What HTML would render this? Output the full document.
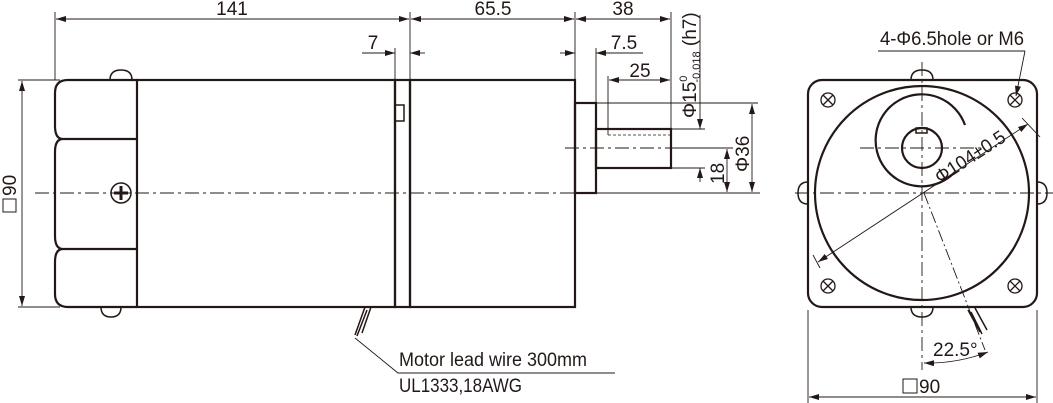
<!DOCTYPE html>
<html><head><meta charset="utf-8"><style>
html,body{margin:0;padding:0;background:#fff;}
svg{display:block;}
text{font-family:"Liberation Sans",sans-serif;fill:#231815;}
</style></head><body>
<svg width="1053" height="403" viewBox="0 0 1053 403" xmlns="http://www.w3.org/2000/svg">
<defs>
<marker id="a" viewBox="0 0 10 6" refX="10" refY="3" markerWidth="11" markerHeight="6" orient="auto-start-reverse" markerUnits="userSpaceOnUse"><path d="M0,0L10,3L0,6z" fill="#231815"/></marker>
</defs>
<g stroke="#231815" fill="none">
<g stroke-width="0.9">
<line x1="55" y1="12" x2="55" y2="80"/>
<line x1="410" y1="12" x2="410" y2="80"/>
<line x1="575" y1="12" x2="575" y2="103"/>
<line x1="671" y1="12" x2="671" y2="129"/>
<line x1="395" y1="48" x2="395" y2="80"/>
<line x1="596" y1="48" x2="596" y2="129"/>
<line x1="608" y1="76" x2="608" y2="135"/>
<line x1="56" y1="19" x2="409" y2="19" marker-start="url(#a)" marker-end="url(#a)"/>
<line x1="411" y1="19" x2="574" y2="19" marker-start="url(#a)" marker-end="url(#a)"/>
<line x1="576" y1="19" x2="670" y2="19" marker-start="url(#a)" marker-end="url(#a)"/>
<line x1="362" y1="53" x2="395" y2="53" marker-end="url(#a)"/>
<line x1="425" y1="53" x2="410" y2="53" marker-end="url(#a)"/>
<line x1="560" y1="53" x2="575" y2="53" marker-end="url(#a)"/>
<line x1="643" y1="53" x2="596" y2="53" marker-end="url(#a)"/>
<line x1="609" y1="80" x2="670" y2="80" marker-start="url(#a)" marker-end="url(#a)"/>
<line x1="700" y1="15" x2="700" y2="129" marker-end="url(#a)"/>
<line x1="700" y1="182" x2="700" y2="168" marker-end="url(#a)"/>
<line x1="672" y1="129" x2="705" y2="129"/>
<line x1="672" y1="168" x2="705" y2="168"/>
<line x1="675" y1="148" x2="733" y2="148"/>
<line x1="727" y1="149" x2="727" y2="192" marker-start="url(#a)" marker-end="url(#a)"/>
<line x1="596" y1="103" x2="758" y2="103"/>
<line x1="752" y1="104" x2="752" y2="192" marker-start="url(#a)" marker-end="url(#a)"/>
<line x1="596" y1="193" x2="760" y2="193"/>
<line x1="18" y1="80" x2="60" y2="80"/>
<line x1="18" y1="307" x2="60" y2="307"/>
<line x1="22" y1="81" x2="22" y2="306" marker-start="url(#a)" marker-end="url(#a)"/>
<polyline points="355,338 398,373 615,373"/>
<line x1="808" y1="310" x2="808" y2="403"/>
<line x1="1037" y1="310" x2="1037" y2="403"/>
<line x1="809" y1="397" x2="1036" y2="397" marker-start="url(#a)" marker-end="url(#a)"/>
<polyline points="878,51 1025,51"/>
<line x1="1025" y1="51" x2="1016" y2="96" marker-end="url(#a)"/>
<line x1="818" y1="262" x2="1028" y2="124" marker-start="url(#a)" marker-end="url(#a)"/>
<line x1="1022" y1="118" x2="1040" y2="137"/>
<line x1="813" y1="255" x2="820" y2="268"/>
<path d="M924,363 A170,170 0 0 0 988,352" marker-start="url(#a)" marker-end="url(#a)"/>
<line x1="924" y1="193" x2="985" y2="350" stroke-dasharray="12,3,2,3"/>
</g>
<g stroke-width="0.9" stroke-dasharray="14,4,3,4">
<line x1="35" y1="193" x2="600" y2="193"/>
<line x1="565" y1="148" x2="680" y2="148"/>
<line x1="795" y1="193" x2="1053" y2="193"/>
<line x1="922" y1="62" x2="922" y2="370"/>
<line x1="860" y1="148" x2="985" y2="148"/>
</g>
<g stroke-width="2.2">
<path d="M137,80 H68 Q55,80 55,93 V126 Q55,139 63,139 Q55,139 55,152 V236 Q55,249 63,249 Q55,249 55,262 V294 Q55,307 68,307 H137"/>
<line x1="63" y1="139" x2="137" y2="139"/>
<line x1="63" y1="249" x2="137" y2="249"/>
<rect x="137" y="80" width="258" height="227"/>
<rect x="395" y="80" width="15" height="227"/>
<rect x="410" y="80" width="165" height="227"/>
<rect x="575" y="103" width="21" height="90"/>
<rect x="596" y="129" width="75" height="39"/>
<rect x="395" y="105" width="9" height="16" stroke-width="1.5"/>
<path d="M110,80 Q110,70 121,70 Q132,70 132,80" stroke-width="1.5"/>
<path d="M101,307 Q101,317 111,317 Q121,317 121,307" stroke-width="1.5"/>
<circle cx="121" cy="193" r="10" stroke-width="1.5"/>
<path d="M121,186V200M114,193H128" stroke-width="3"/>
<path d="M365,307 l-10,28 M371,307 l-9,26 M367,310 l-10,26" stroke-width="1.5"/>
</g>
<line x1="608" y1="135" x2="671" y2="135" stroke-width="0.8" stroke-dasharray="3,2"/>
<g stroke-width="2.2">
<rect x="808" y="80" width="229" height="227" rx="14"/>
<circle cx="922" cy="193" r="107"/>
<circle cx="922" cy="148" r="20"/>
<rect x="916" y="128" width="11" height="5" stroke-width="1.5"/>
<path d="M965,125 A46,46 0 1 0 955,172"/>
<path d="M911,80 Q911,70 922,70 Q933,70 933,80" stroke-width="1.5"/>
<path d="M911,307 Q911,317 922,317 Q933,317 933,307" stroke-width="1.5"/>
<path d="M808,182 Q798,182 798,193 Q798,204 808,204" stroke-width="1.5"/>
<path d="M1037,182 Q1047,182 1047,193 Q1047,204 1037,204" stroke-width="1.5"/>
<path d="M968,310 l12,22 M975,308 l12,22 M971,312 l11,22" stroke-width="1.5"/>
</g>
<g stroke-width="1.3">
<circle cx="828" cy="100" r="7"/><path d="M823,95l10,10M833,95l-10,10"/>
<circle cx="1015" cy="100" r="7"/><path d="M1010,95l10,10M1020,95l-10,10"/>
<circle cx="828" cy="286" r="7"/><path d="M823,281l10,10M833,281l-10,10"/>
<circle cx="1015" cy="286" r="7"/><path d="M1010,281l10,10M1020,281l-10,10"/>
</g>
<rect x="3" y="199" width="13" height="13" stroke-width="1"/>
<rect x="903" y="379" width="14" height="14" stroke-width="1"/>
</g>
<g font-size="19">
<text x="232" y="15" text-anchor="middle">141</text>
<text x="493" y="15" text-anchor="middle">65.5</text>
<text x="623" y="15" text-anchor="middle">38</text>
<text x="373" y="49" text-anchor="middle">7</text>
<text x="624" y="49" text-anchor="middle">7.5</text>
<text x="640" y="77" text-anchor="middle">25</text>
<text transform="translate(696,118) rotate(-90)">Φ15<tspan font-size="11" dy="-9">0</tspan><tspan font-size="11" dx="-7" dy="13">-0.018</tspan><tspan dy="-4"> (h7)</tspan></text>
<text transform="translate(724,184) rotate(-90)">18</text>
<text transform="translate(749,172) rotate(-90)">Φ36</text>
<text transform="translate(16,196) rotate(-90)">90</text>
<text x="399" y="366" textLength="188" lengthAdjust="spacingAndGlyphs">Motor lead wire 300mm</text>
<text x="399" y="392" textLength="123" lengthAdjust="spacingAndGlyphs">UL1333,18AWG</text>
<text x="880" y="45" textLength="144" lengthAdjust="spacingAndGlyphs">4-Φ6.5hole or M6</text>
<text transform="translate(940,184) rotate(-33)" textLength="80" lengthAdjust="spacingAndGlyphs">Φ104±0.5</text>
<text x="933" y="356">22.5°</text>
<text x="919" y="393">90</text>
</g>
</svg>
</body></html>
